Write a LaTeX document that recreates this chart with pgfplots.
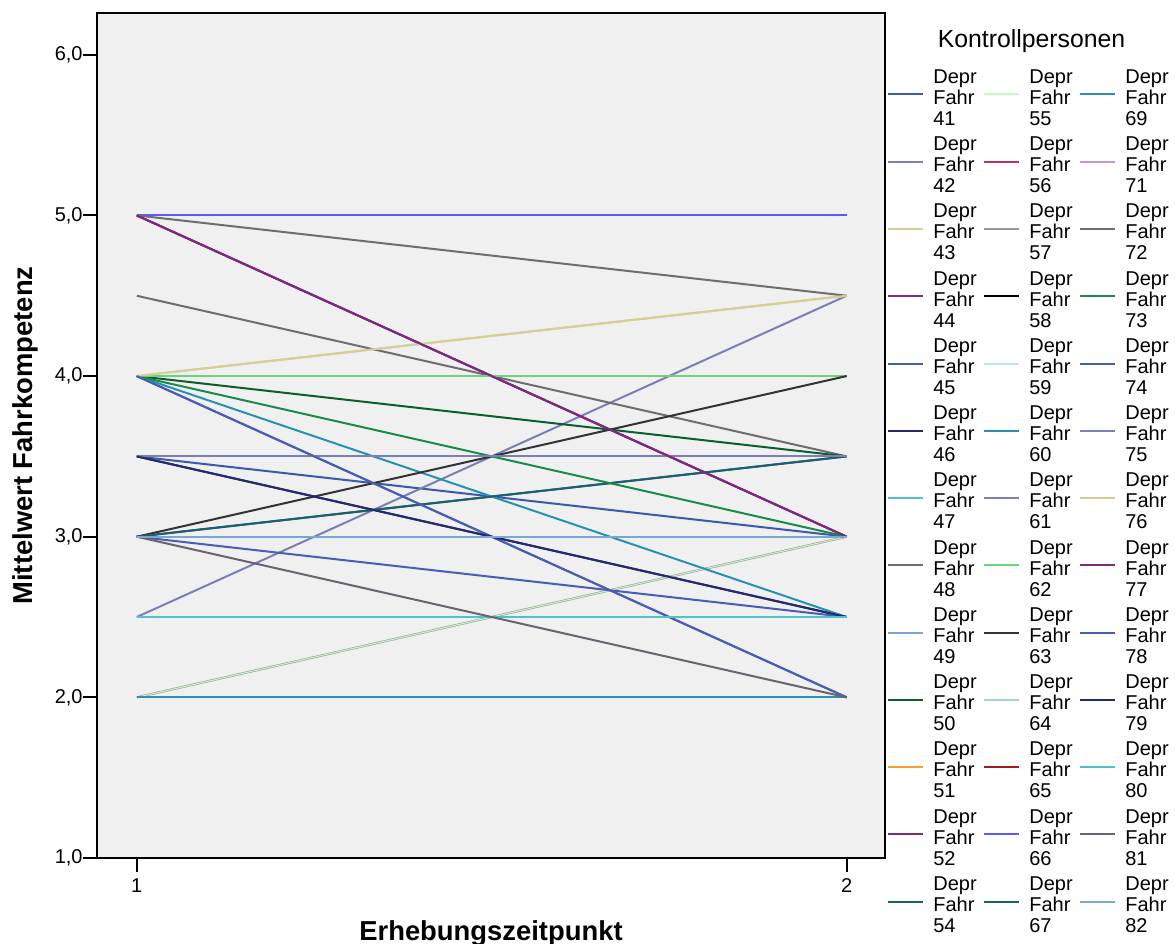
\documentclass[border=0pt]{standalone}
\usepackage{pgfplots}
\pgfplotsset{compat=1.18}
\usepackage{fontspec}
\setmainfont{Liberation Sans}

\definecolor{c41}{HTML}{3E58AC}
\definecolor{c42}{HTML}{7B7FB5}
\definecolor{c43}{HTML}{D4CF98}
\definecolor{c44}{HTML}{7B2A80}
\definecolor{c45}{HTML}{4A5DB5}
\definecolor{c46}{HTML}{252A6E}
\definecolor{c47}{HTML}{4CC3C8}
\definecolor{c48}{HTML}{6E6E6E}
\definecolor{c49}{HTML}{7BA6D6}
\definecolor{c50}{HTML}{0D5E2F}
\definecolor{c51}{HTML}{F7A030}
\definecolor{c52}{HTML}{7B2A80}
\definecolor{c54}{HTML}{1E5E6E}
\definecolor{c55}{HTML}{C8F5C8}
\definecolor{c56}{HTML}{C03070}
\definecolor{c57}{HTML}{999999}
\definecolor{c58}{HTML}{000000}
\definecolor{c59}{HTML}{B8E8E8}
\definecolor{c60}{HTML}{2891B0}
\definecolor{c61}{HTML}{7B7FB5}
\definecolor{c62}{HTML}{6ED27C}
\definecolor{c63}{HTML}{333333}
\definecolor{c64}{HTML}{A8CDEF}
\definecolor{c65}{HTML}{A01C24}
\definecolor{c66}{HTML}{5A5AFF}
\definecolor{c67}{HTML}{1E5E6E}
\definecolor{c69}{HTML}{2890B0}
\definecolor{c71}{HTML}{C09AD0}
\definecolor{c72}{HTML}{6E6E6E}
\definecolor{c73}{HTML}{1A8A4A}
\definecolor{c74}{HTML}{4A5DB5}
\definecolor{c75}{HTML}{7B7FB5}
\definecolor{c76}{HTML}{D4CF98}
\definecolor{c77}{HTML}{7B2A80}
\definecolor{c78}{HTML}{4A5DB5}
\definecolor{c79}{HTML}{252A6E}
\definecolor{c80}{HTML}{4CC3C8}
\definecolor{c81}{HTML}{6A6470}
\definecolor{c82}{HTML}{7BA6D6}
\definecolor{bg}{HTML}{F0F0F0}

\tikzset{lw/.style={line width=1pt}}
\newcommand{\ent}[1]{\parbox[c]{25pt}{Depr\\Fahr\\#1}}
\newcommand{\leg}[2]{\addlegendimage{#1}\addlegendentry{\ent{#2}}}

\begin{document}
\begin{tikzpicture}
\useasboundingbox (0pt,0pt) rectangle (587.5pt,472pt);
\begin{axis}[
  at={(48.5pt,43pt)}, anchor=south west,
  scale only axis, width=394pt, height=422.5pt,
  xmin=0.944, xmax=2.054, ymin=1, ymax=6.26,
  xtick={1,2}, ytick={1,2,3,4,5,6},
  tick pos=left, tick align=outside,
  major tick length=7pt,
  every tick/.style={black, line width=1pt},
  axis line style={line width=1pt},
  axis background/.style={fill=bg},
  /pgf/number format/assume math mode=true,
  yticklabel style={/pgf/number format/.cd, fixed, fixed zerofill, precision=1, use comma, /tikz/.cd, inner sep=0pt, font=\fontsize{10}{12}\selectfont},
  xticklabel style={inner sep=3pt, font=\fontsize{10}{12}\selectfont},
  every axis x label/.style={at={(axis description cs:0.5,-0.0982)}, anchor=base, font=\fontsize{13.7}{16}\selectfont\bfseries},
  every axis y label/.style={at={(axis description cs:-0.0914,0.5)}, anchor=center, rotate=90, font=\fontsize{13.7}{16}\selectfont\bfseries},
  xlabel={Erhebungszeitpunkt},
  ylabel={Mittelwert Fahrkompetenz},
  legend columns=3,
  legend cell align=left,
  legend image code/.code={\draw[#1,line width=1pt] (0pt,-3.5pt) -- (17.5pt,-3.5pt);},
  legend style={at={(axis description cs:1.0025,0.9337)}, anchor=north west,
    draw=none, fill=none, inner sep=0pt,
    font=\fontsize{10}{10.5}\selectfont,
    row sep=15.65pt, column sep=0pt,
    /tikz/every odd column/.style={column sep=4.5pt},
    nodes={inner sep=0pt}},
]
% data lines (time 1 -> time 2)
\addplot[forget plot, lw, c41] coordinates {(1,3.5) (2,3)};
\addplot[forget plot, lw, c42] coordinates {(1,2.5) (2,4.5)};
\addplot[forget plot, lw, c43] coordinates {(1,4) (2,4.5)};
\addplot[forget plot, lw, c44] coordinates {(1,5) (2,3)};
\addplot[forget plot, lw, c45] coordinates {(1,4) (2,2)};
\addplot[forget plot, lw, c46] coordinates {(1,3.5) (2,2.5)};
\addplot[forget plot, lw, c47] coordinates {(1,2.5) (2,2.5)};
\addplot[forget plot, lw, c48] coordinates {(1,4.5) (2,3.5)};
\addplot[forget plot, lw, c49] coordinates {(1,3) (2,3)};
\addplot[forget plot, lw, c50] coordinates {(1,4) (2,3.5)};
\addplot[forget plot, lw, c52] coordinates {(1,5) (2,3)};
\addplot[forget plot, lw, c54] coordinates {(1,3) (2,3.5)};
\addplot[forget plot, c57, line width=1.1pt] coordinates {(1,2) (2,3)};
\addplot[forget plot, c55, line width=0.55pt] coordinates {(1,2) (2,3)};
\addplot[forget plot, lw, c60] coordinates {(1,4) (2,2.5)};
\addplot[forget plot, lw, c61] coordinates {(1,3.5) (2,3.5)};
\addplot[forget plot, lw, c62] coordinates {(1,4) (2,4)};
\addplot[forget plot, lw, c63] coordinates {(1,3) (2,4)};
\addplot[forget plot, lw, c64] coordinates {(1,3) (2,3)};
\addplot[forget plot, lw, c66] coordinates {(1,5) (2,5)};
\addplot[forget plot, lw, c67] coordinates {(1,3) (2,3.5)};
\addplot[forget plot, lw, c69] coordinates {(1,2) (2,2)};
\addplot[forget plot, lw, c72] coordinates {(1,5) (2,4.5)};
\addplot[forget plot, lw, c73] coordinates {(1,4) (2,3)};
\addplot[forget plot, lw, c74] coordinates {(1,3) (2,2.5)};
\addplot[forget plot, lw, c75] coordinates {(1,3.5) (2,3.5)};
\addplot[forget plot, lw, c76] coordinates {(1,4) (2,4.5)};
\addplot[forget plot, lw, c77] coordinates {(1,5) (2,3)};
\addplot[forget plot, lw, c78] coordinates {(1,4) (2,2)};
\addplot[forget plot, lw, c79] coordinates {(1,3.5) (2,2.5)};
\addplot[forget plot, lw, c80] coordinates {(1,2.5) (2,2.5)};
\addplot[forget plot, lw, c81] coordinates {(1,3) (2,2)};
\addplot[forget plot, lw, c82] coordinates {(1,3) (2,3)};
% legend (row-major order of a column-major list)
\leg{c41}{41}\leg{c55}{55}\leg{c69}{69}
\leg{c42}{42}\leg{c56}{56}\leg{c71}{71}
\leg{c43}{43}\leg{c57}{57}\leg{c72}{72}
\leg{c44}{44}\leg{c58}{58}\leg{c73}{73}
\leg{c45}{45}\leg{c59}{59}\leg{c74}{74}
\leg{c46}{46}\leg{c60}{60}\leg{c75}{75}
\leg{c47}{47}\leg{c61}{61}\leg{c76}{76}
\leg{c48}{48}\leg{c62}{62}\leg{c77}{77}
\leg{c49}{49}\leg{c63}{63}\leg{c78}{78}
\leg{c50}{50}\leg{c64}{64}\leg{c79}{79}
\leg{c51}{51}\leg{c65}{65}\leg{c80}{80}
\leg{c52}{52}\leg{c66}{66}\leg{c81}{81}
\leg{c54}{54}\leg{c67}{67}\leg{c82}{82}
\end{axis}
\node[font=\fontsize{12.4}{14}\selectfont] at (515.75pt,451.5pt) {Kontrollpersonen};
\end{tikzpicture}
\end{document}
